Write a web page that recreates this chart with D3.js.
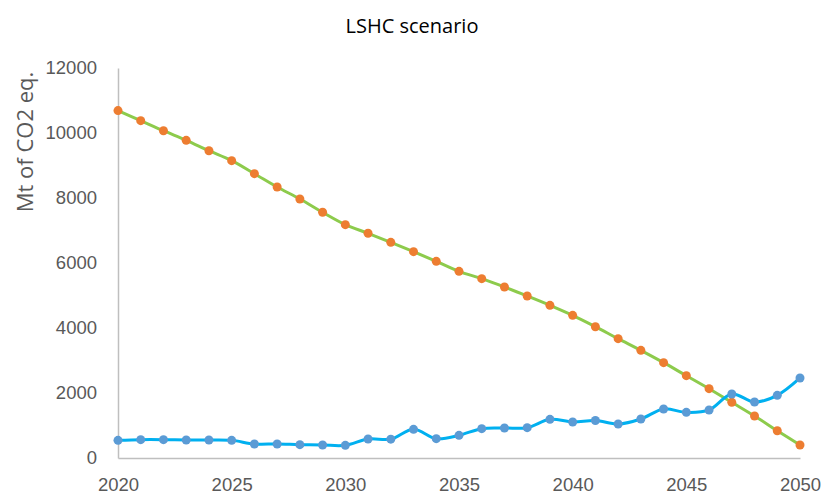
<!DOCTYPE html>
<html>
<head>
<meta charset="utf-8">
<script src="https://cdn.jsdelivr.net/npm/d3@7"></script>
<style>
  body { margin: 0; background: #fff; }
  svg { font-family: "Open Sans", "Noto Sans", sans-serif; }
</style>
</head>
<body>
<svg id="chart" width="824" height="495"></svg>
<script>
const years = d3.range(2020, 2051);
const blueSeries = [543, 565, 565, 554, 554, 543, 431, 431, 410, 400, 390, 585, 580, 882, 595, 698,
  903, 923, 933, 1190, 1108, 1155, 1046, 1200, 1508, 1405, 1477, 1969, 1723, 1928, 2462];
const orangeSeries = [10690, 10380, 10070, 9775, 9455, 9148, 8748, 8338, 7969, 7560, 7180, 6914,
  6636, 6348, 6051, 5744, 5518, 5262, 4985, 4698, 4390, 4040, 3671, 3313, 2933, 2533, 2133,
  1713, 1292, 840, 400];
const yTicks = [0, 2000, 4000, 6000, 8000, 10000, 12000];
const xTicks = [2020, 2025, 2030, 2035, 2040, 2045, 2050];

const svg = d3.select("#chart");
const x = d3.scaleLinear().domain([2020, 2050]).range([118, 800]);
const y = d3.scaleLinear().domain([0, 12000]).range([458, 68]);

// axes
const yAxis = svg.append("g").attr("transform", "translate(118,0)")
  .call(d3.axisLeft(y).tickValues(yTicks).tickFormat(d3.format("d")).tickSize(0).tickPadding(21));
yAxis.select(".domain").attr("stroke", "#BFBFBF").attr("stroke-width", 1.5);
yAxis.selectAll("text").attr("fill", "#595959").style("font-size", "18.5px");

const xAxis = svg.append("g").attr("transform", "translate(0,458)")
  .call(d3.axisBottom(x).tickValues(xTicks).tickFormat(d3.format("d")).tickSize(0).tickPadding(20));
xAxis.select(".domain").attr("stroke", "#BFBFBF").attr("stroke-width", 1.5);
xAxis.selectAll("text").attr("fill", "#595959").style("font-size", "18.5px");

// titles
svg.append("text").attr("x", 412).attr("y", 33).attr("text-anchor", "middle")
  .style("font-size", "20px").attr("fill", "#000").text("LSHC scenario");
svg.append("text").attr("transform", "translate(33,142) rotate(-90)").attr("text-anchor", "middle")
  .style("font-size", "22px").attr("fill", "#595959").text("Mt of CO2 eq.");

const line = d3.line().x((d, i) => x(years[i])).y(d => y(d)).curve(d3.curveCatmullRom);

svg.append("path").datum(orangeSeries).attr("d", line)
  .attr("fill", "none").attr("stroke", "#8DCB4C").attr("stroke-width", 3);
svg.append("path").datum(blueSeries).attr("d", line)
  .attr("fill", "none").attr("stroke", "#00B0F0").attr("stroke-width", 3);

svg.append("g").selectAll("circle").data(orangeSeries).join("circle")
  .attr("cx", (d, i) => x(years[i])).attr("cy", d => y(d)).attr("r", 4.5).attr("fill", "#ED7D31");
svg.append("g").selectAll("circle").data(blueSeries).join("circle")
  .attr("cx", (d, i) => x(years[i])).attr("cy", d => y(d)).attr("r", 4.5).attr("fill", "#5B9BD5");
</script>
</body>
</html>
